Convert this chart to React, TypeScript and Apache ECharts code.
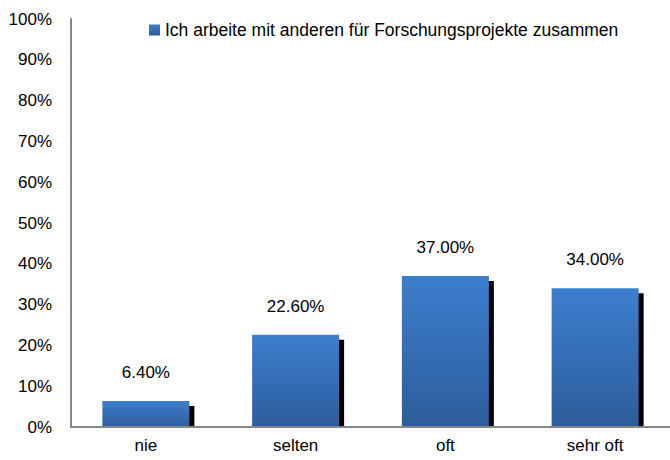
import React, { useEffect, useRef } from "react";
import * as echarts from "echarts";

const categories = ["nie", "selten", "oft", "sehr oft"];
const values = [6.4, 22.6, 37.0, 34.0];
const seriesName = "Ich arbeite mit anderen für Forschungsprojekte zusammen";
const yTicks = [0, 10, 20, 30, 40, 50, 60, 70, 80, 90, 100];

const FONT = "'Liberation Sans', Arial, sans-serif";

export default function App() {
  const ref = useRef<HTMLDivElement>(null);
  useEffect(() => {
    if (!ref.current) return;
    const chart = echarts.init(ref.current, null, { renderer: "svg" });
    const barGrad = new echarts.graphic.LinearGradient(0, 0, 0, 1, [
      { offset: 0, color: "#3C7ECF" },
      { offset: 1, color: "#2D5D9B" },
    ]);
    const BAR_W = 87;
    chart.setOption({
      animation: false,
      backgroundColor: "#ffffff",
      grid: { left: 71, top: 19, width: 604, height: 408, containLabel: false },
      legend: {
        data: [{ name: seriesName, icon: "rect" }],
        left: 149,
        top: 21,
        padding: 0,
        itemWidth: 11,
        itemHeight: 11,
        textStyle: { fontFamily: FONT, fontSize: 17.5, color: "#000" },
      },
      xAxis: {
        type: "category",
        data: categories,
        axisLine: { show: true, lineStyle: { color: "#868686", width: 2 } },
        axisTick: { show: false },
        axisLabel: { fontFamily: FONT, fontSize: 17, color: "#000", margin: 10 },
        z: 5,
      },
      yAxis: {
        type: "value",
        min: 0,
        max: 100,
        interval: 10,
        axisLine: { show: true, lineStyle: { color: "#868686", width: 2 } },
        axisTick: { show: false },
        splitLine: { show: false },
        axisLabel: {
          fontFamily: FONT,
          fontSize: 17,
          color: "#000",
          margin: 19,
          formatter: (v: number) => (yTicks.includes(v) ? v + "%" : ""),
        },
        z: 5,
      },
      series: [
        {
          type: "custom",
          name: "shadow",
          z: 1,
          silent: true,
          renderItem: (params: any, api: any) => {
            const top = api.coord([api.value(0), api.value(1)]);
            const base = api.coord([api.value(0), 0]);
            const x = top[0] - BAR_W / 2 + 5;
            const y = top[1] + 5;
            return {
              type: "rect",
              shape: { x, y, width: BAR_W, height: base[1] - y },
              style: { fill: "#000000" },
            };
          },
          encode: { x: 0, y: 1 },
          data: values.map((v, i) => [i, v]),
        },
        {
          type: "bar",
          name: seriesName,
          data: values,
          barWidth: BAR_W,
          z: 2,
          itemStyle: { color: barGrad },
          label: {
            show: true,
            position: "top",
            distance: 20,
            fontFamily: FONT,
            fontSize: 17,
            color: "#000",
            formatter: (p: any) => p.value.toFixed(2) + "%",
          },
        },
      ],
    });
    return () => chart.dispose();
  }, []);
  return (
    <div
      ref={ref}
      style={{ position: "fixed", left: 0, top: 0, width: 670, height: 460 }}
    />
  );
}
